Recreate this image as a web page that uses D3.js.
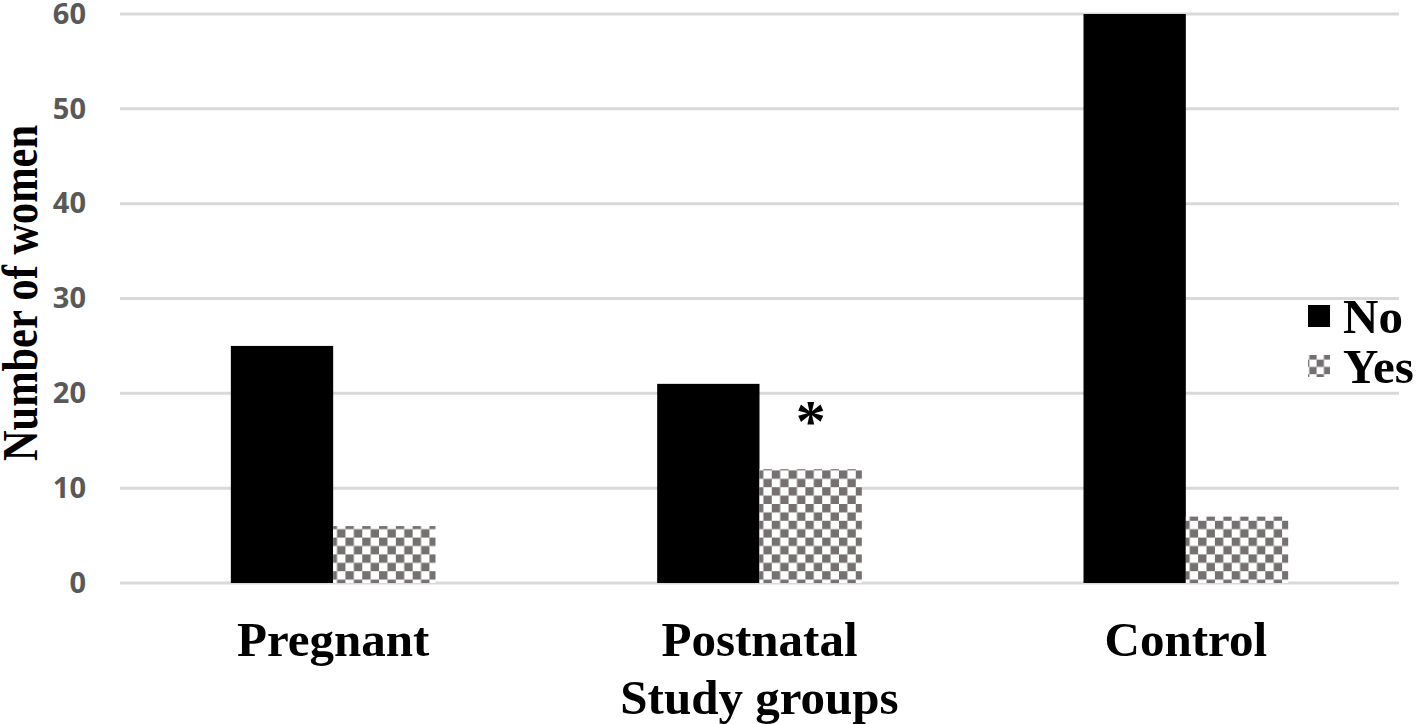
<!DOCTYPE html>
<html>
<head>
<meta charset="utf-8">
<script src="https://cdn.jsdelivr.net/npm/d3@7"></script>
<style>
  body { margin: 0; background: #fff; }
  svg { display: block; }
</style>
</head>
<body>
<div id="chart"></div>
<script>
// groups on the x axis and the two answers
var groups = ["Pregnant", "Postnatal", "Control"];
var answers = ["No", "Yes"];
var noValues = [25, 21, 60];
var yesValues = [6, 12, 7];
var yTicks = [0, 10, 20, 30, 40, 50, 60];
var starred = ["Postnatal"]; // significant "Yes" bar

var w = 1424;
var h = 724;
// note: "top" is taken by window.top, so plot edges get their own names
var plotLeft = 120, plotRight = 1399, plotTop = 14, plotBottom = 583;

var svg = d3.select("#chart")
            .append("svg")
            .attr("width", w)
            .attr("height", h);

// checkerboard fill for the "Yes" bars
var defs = svg.append("defs");
var sq = 8.4;
var pat = defs.append("pattern")
    .attr("id", "checker")
    .attr("patternUnits", "userSpaceOnUse")
    .attr("x", 333).attr("y", 0)
    .attr("width", sq * 2).attr("height", sq * 2);
pat.append("rect").attr("width", sq * 2).attr("height", sq * 2).attr("fill", "#fff");
pat.append("rect").attr("x", 0).attr("y", 0).attr("width", sq).attr("height", sq).attr("fill", "#767171");
pat.append("rect").attr("x", sq).attr("y", sq).attr("width", sq).attr("height", sq).attr("fill", "#767171");

var pat2 = defs.append("pattern")
    .attr("id", "checkerSmall")
    .attr("patternUnits", "userSpaceOnUse")
    .attr("x", 1308).attr("y", 355)
    .attr("width", 14.6).attr("height", 14.6);
pat2.append("rect").attr("width", 14.6).attr("height", 14.6).attr("fill", "#fff");
pat2.append("rect").attr("width", 7.3).attr("height", 7.3).attr("fill", "#767171");
pat2.append("rect").attr("x", 7.3).attr("y", 7.3).attr("width", 7.3).attr("height", 7.3).attr("fill", "#767171");

var xscale = d3.scaleBand()
    .domain(groups)
    .range([plotLeft, plotRight])
    .paddingInner(0.52)
    .paddingOuter(0.26);

var xsub = d3.scaleBand()
    .domain(answers)
    .range([0, xscale.bandwidth()]);

var yscale = d3.scaleLinear()
    .domain([0, 60])
    .range([plotBottom, plotTop]);

// gridlines
svg.append("g")
   .selectAll("line")
   .data(yTicks)
   .enter()
   .append("line")
   .attr("x1", plotLeft)
   .attr("x2", plotRight)
   .attr("y1", function(d) { return yscale(d); })
   .attr("y2", function(d) { return yscale(d); })
   .attr("stroke", "#d9d9d9")
   .attr("stroke-width", 3);

// y tick labels
var yaxis = d3.axisLeft(yscale).tickValues(yTicks).tickSize(0).tickPadding(0);
var yg = svg.append("g")
   .attr("transform", "translate(86,0)")
   .call(yaxis);
yg.select(".domain").remove();
yg.selectAll("text")
  .attr("fill", "#595959")
  .style("font-family", "'Open Sans', sans-serif")
  .style("font-weight", "700")
  .style("font-size", "29px");

var rows = groups.map(function(g, i) {
    return { group: g, No: noValues[i], Yes: yesValues[i] };
});

var bars = svg.append("g")
   .selectAll("g")
   .data(rows)
   .enter()
   .append("g")
   .attr("transform", function(d) { return "translate(" + xscale(d.group) + ",0)"; });

bars.selectAll("rect")
    .data(function(d) { return answers.map(function(a) { return { key: a, value: d[a] }; }); })
    .enter()
    .append("rect")
    .attr("x", function(d) { return xsub(d.key); })
    .attr("width", xsub.bandwidth())
    .attr("y", function(d) { return yscale(d.value); })
    .attr("height", function(d) { return yscale(0) - yscale(d.value); })
    .attr("fill", function(d) { return d.key === "No" ? "#000" : "url(#checker)"; });

// asterisk over significant Yes bar
svg.append("g")
   .selectAll("text")
   .data(rows.filter(function(d) { return starred.indexOf(d.group) >= 0; }))
   .enter()
   .append("text")
   .attr("x", function(d) { return xscale(d.group) + xsub("Yes") + xsub.bandwidth() / 2; })
   .attr("y", function(d) { return yscale(d.Yes) - 28; })
   .attr("text-anchor", "middle")
   .style("font-family", "'Liberation Serif', 'Times New Roman', serif")
   .style("font-weight", "700")
   .style("font-size", "60px")
   .text("*");

// category labels
svg.append("g")
   .selectAll("text")
   .data(groups)
   .enter()
   .append("text")
   .attr("x", function(d) { return xscale(d) + xscale.bandwidth() / 2; })
   .attr("y", 656)
   .attr("text-anchor", "middle")
   .style("font-family", "'Liberation Serif', 'Times New Roman', serif")
   .style("font-weight", "700")
   .style("font-size", "49px")
   .text(function(d) { return d; });

// axis titles
svg.append("text")
   .attr("x", xscale("Postnatal") + xscale.bandwidth() / 2)
   .attr("y", 714)
   .attr("text-anchor", "middle")
   .style("font-family", "'Liberation Serif', 'Times New Roman', serif")
   .style("font-weight", "700")
   .style("font-size", "49px")
   .text("Study groups");

svg.append("text")
   .attr("transform", "translate(37,293) rotate(-90)")
   .attr("text-anchor", "middle")
   .attr("textLength", 336)
   .attr("lengthAdjust", "spacingAndGlyphs")
   .style("font-family", "'Liberation Serif', 'Times New Roman', serif")
   .style("font-weight", "700")
   .style("font-size", "50px")
   .text("Number of women");

// legend
var legend = svg.append("g")
   .selectAll("g")
   .data(answers)
   .enter()
   .append("g")
   .attr("transform", function(d, i) { return "translate(1308," + (305 + i * 50) + ")"; });

legend.append("rect")
   .attr("width", 22)
   .attr("height", 22)
   .attr("fill", function(d) { return d === "No" ? "#000" : "url(#checkerSmall)"; });

legend.append("text")
   .attr("x", 35)
   .attr("y", 28)
   .style("font-family", "'Liberation Serif', 'Times New Roman', serif")
   .style("font-weight", "700")
   .style("font-size", "49px")
   .text(function(d) { return d; });
</script>
</body>
</html>
